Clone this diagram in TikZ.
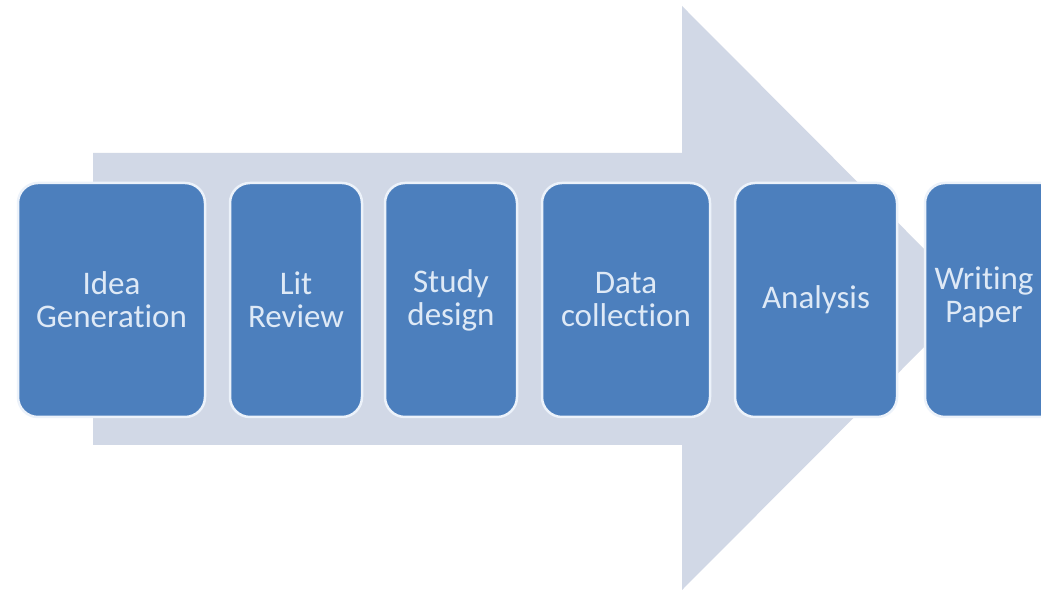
\documentclass[tikz,border=0pt]{standalone}
\usepackage{fontspec}
\setmainfont{Carlito}[Ligatures={NoCommon,NoContextual}]
\definecolor{arrowc}{RGB}{209,216,230}
\definecolor{boxc}{RGB}{76,127,189}
\definecolor{edgec}{RGB}{236,242,250}
\definecolor{txtc}{RGB}{222,233,246}
\tikzset{
  stepbox/.style={draw=edgec, line width=2.5pt, fill=boxc, rounded corners=20pt,
    minimum height=234pt, inner sep=0pt, text=txtc, align=center,
    font=\fontsize{33}{33}\selectfont},
  bigarrow/.style={fill=arrowc, draw=none}
}
\begin{document}
\begin{tikzpicture}[x=1pt,y=1pt]
\useasboundingbox (0,0) rectangle (1041,596);
\clip (0,0) rectangle (1041,596);
\fill[white] (0,0) rectangle (1041,596);
\fill[bigarrow] (93,443) -- (682,443) -- (682,590) -- (973,298) -- (682,6) -- (682,151) -- (93,151) -- cycle;
\node[stepbox, minimum width=187pt] (idea) at (111.5,296) {Idea\\Generation};
\node[stepbox, minimum width=132pt] (lit) at (296,296) {Lit\\Review};
\node[stepbox, minimum width=132pt] (study) at (451,296) {Study\\design};
\node[stepbox, minimum width=168pt] (data) at (626,296) {Data\\collection};
\node[stepbox, minimum width=162pt] (anal) at (816,296) {Analysis};
\node[stepbox, minimum width=140pt, label={[text=txtc, align=center, font=\fontsize{33}{33}\selectfont, xshift=-11pt, yshift=3pt]center:Writing\\Paper}] (write) at (995,296) {};
\end{tikzpicture}
\end{document}
